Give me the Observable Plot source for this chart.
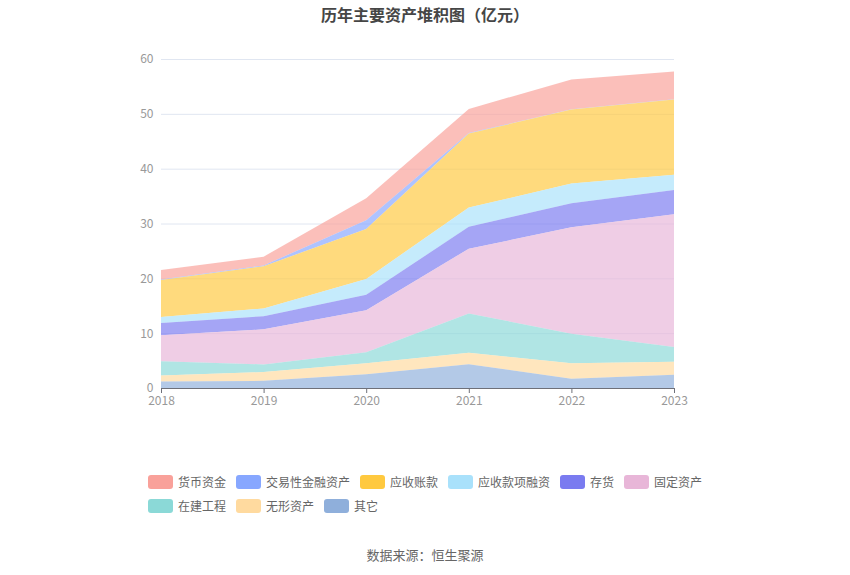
<!DOCTYPE html>
<html><head><meta charset="utf-8">
<script src="https://cdn.jsdelivr.net/npm/d3@7"></script>
<script src="https://cdn.jsdelivr.net/npm/@observablehq/plot@0.6"></script>
<style>
body{margin:0;background:#fff;font-family:"Noto Sans CJK SC","Noto Sans",sans-serif;}
#wrap{position:relative;width:850px;height:575px;}
#title{position:absolute;top:2px;left:0;width:850px;text-align:center;font-size:16px;font-weight:bold;color:#464646;}
#chart{position:absolute;top:0;left:0;}
#legend{position:absolute;left:148px;top:475px;width:570px;display:flex;flex-wrap:wrap;column-gap:10px;row-gap:10px;}
.item{display:flex;align-items:center;font-size:12px;color:#666;height:14px;line-height:14px;}
.sw{width:25px;height:14px;border-radius:3px;margin-right:5px;}
#caption{position:absolute;top:545px;left:0;width:850px;text-align:center;font-size:13px;color:#666;}
</style></head>
<body><div id="wrap">
<div id="title">历年主要资产堆积图（亿元）</div>
<div id="chart"></div>
<div id="legend"></div>
<div id="caption">数据来源：恒生聚源</div>
</div>
<script>
const years = [2018, 2019, 2020, 2021, 2022, 2023];
// legend order
const legendNames = ["货币资金","交易性金融资产","应收账款","应收款项融资","存货","固定资产","在建工程","无形资产","其它"];
const legendColors = ["#F9A19A","#87A7FF","#FFC93F","#A9E1FB","#7A7BF0","#E8B6D8","#8BD9D7","#FFDA9F","#8FAFDB"];
// values (亿元)
const cash        = [1.7, 1.6, 4.0, 4.4, 5.4, 5.05];
const tradingFin  = [0.1, 0.15, 1.6, 0.1, 0.05, 0.05];
const receivables = [6.75, 7.7, 9.1, 13.5, 13.5, 13.7];
const recFinance  = [1.1, 1.4, 2.9, 3.5, 3.6, 2.8];
const inventory   = [2.25, 2.4, 2.8, 4.0, 4.4, 4.4];
const fixedAssets = [4.7, 6.4, 7.7, 11.8, 19.4, 24.2];
const construction= [2.6, 1.4, 2.0, 7.15, 5.4, 2.7];
const intangible  = [1.1, 1.6, 2.0, 2.1, 2.8, 2.4];
const others      = [1.2, 1.3, 2.5, 4.35, 1.7, 2.4];
const yTicks = [0, 10, 20, 30, 40, 50, 60];

const seriesValues = [cash, tradingFin, receivables, recFinance, inventory, fixedAssets, construction, intangible, others];
const data = [];
legendNames.forEach((name, i) => {
  years.forEach((yr, j) => data.push({year: yr, series: name, value: seriesValues[i][j]}));
});
const stackOrder = legendNames.slice().reverse(); // bottom first

const plot = Plot.plot({
  width: 850, height: 440,
  marginTop: 59, marginBottom: 52, marginLeft: 161, marginRight: 176,
  style: {fontFamily: '"Noto Sans CJK SC","Noto Sans",sans-serif', fontSize: "12px", background: "transparent"},
  x: {type: "linear", domain: [2018, 2023], label: null},
  y: {domain: [0, 60], label: null},
  color: {domain: legendNames, range: legendColors},
  marks: [
    Plot.gridY(yTicks, {stroke: "#e0e6f1", strokeOpacity: 1}),
    Plot.areaY(data, {x: "year", y: "value", fill: "series", z: "series", order: stackOrder, fillOpacity: 0.68}),
    Plot.ruleY([0], {stroke: "#6E7079"}),
    Plot.axisY(yTicks, {tickSize: 0, tickPadding: 8, fill: "#999"}),
    Plot.axisX(years, {tickSize: 5, stroke: "#6E7079", fill: "#999", tickPadding: 3, tickFormat: d3.format("d")})
  ]
});
document.getElementById("chart").appendChild(plot);

const lg = document.getElementById("legend");
legendNames.forEach((n, i) => {
  const it = document.createElement("div"); it.className = "item";
  const sw = document.createElement("div"); sw.className = "sw"; sw.style.background = legendColors[i];
  const t = document.createElement("span"); t.textContent = n;
  it.appendChild(sw); it.appendChild(t); lg.appendChild(it);
});
</script>
</body></html>
